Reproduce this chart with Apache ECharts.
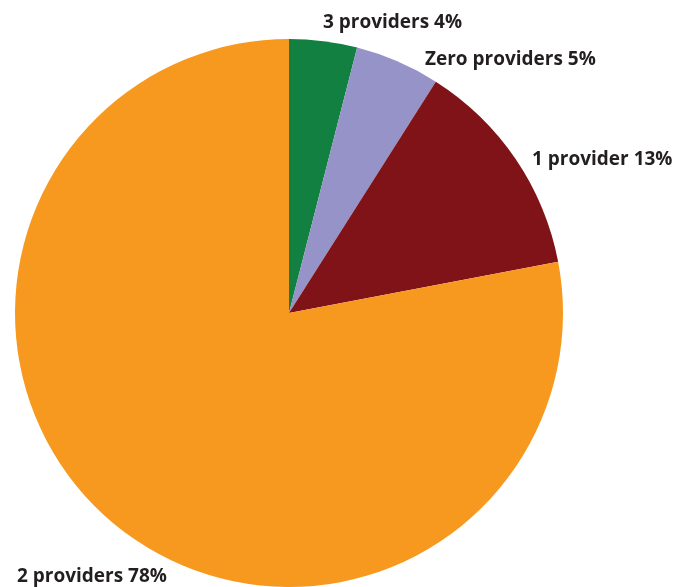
<!DOCTYPE html>
<html>
<head>
<meta charset="utf-8">
<script src="https://cdn.jsdelivr.net/npm/echarts@6/dist/echarts.min.js"></script>
<style>
  html, body { margin: 0; padding: 0; background: #fff; }
  #chart { width: 680px; height: 587px; }
</style>
</head>
<body>
<div id="chart"></div>
<script>
// slices, clockwise from 12 o'clock
const categories = ['3 providers', 'Zero providers', '1 provider', '2 providers']
const shares = [4, 5, 13, 78]
const colors = ['#118040', '#9693c8', '#7f1318', '#f7991e']

// where each label sits (left edge, vertical middle)
const labelSpots = [[323, 23], [425, 60], [532, 160], [17, 577]]

const chart = echarts.init(document.getElementById('chart'))

chart.setOption({
  backgroundColor: '#fff',
  animation: false,
  series: [
    {
      type: 'pie',
      center: [289, 313],
      radius: 274,
      startAngle: 90,
      clockwise: true,
      data: categories.map((name, i) => ({
        name,
        value: shares[i],
        itemStyle: { color: colors[i] }
      })),
      itemStyle: { borderWidth: 0 },
      label: {
        show: true,
        position: 'outside',
        formatter: '{b} {c}%',
        fontFamily: 'Open Sans',
        fontWeight: 'bold',
        fontSize: 19,
        color: '#231f20',
        overflow: 'none',
        width: 300
      },
      labelLine: { show: false },
      labelLayout: (p) => ({
        x: labelSpots[p.dataIndex][0],
        y: labelSpots[p.dataIndex][1],
        align: 'left',
        verticalAlign: 'middle'
      })
    }
  ]
})
</script>
</body>
</html>
